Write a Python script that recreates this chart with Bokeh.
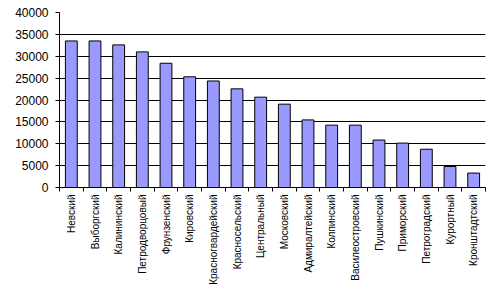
from bokeh.plotting import figure
from bokeh.models import FixedTicker, Range1d
from bokeh.embed import file_html
from bokeh.resources import INLINE
import math

districts = ["Невский", "Выборгский", "Калининский", "Петродворцовый", "Фрунзенский",
             "Кировский", "Красногвардейский", "Красносельский", "Центральный", "Московский",
             "Адмиралтейский", "Колпинский", "Василеостровский", "Пушкинский", "Приморский",
             "Петроградский", "Курортный", "Кронштадтский"]
values = [33500, 33500, 32600, 31000, 28400, 25300, 24350, 22550, 20650, 19050,
          15450, 14250, 14250, 10850, 10150, 8750, 4800, 3300]
y_ticks = [0, 5000, 10000, 15000, 20000, 25000, 30000, 35000, 40000]

xs = list(range(len(districts)))

p = figure(width=487, height=287, output_backend="svg", toolbar_location=None,
           x_range=Range1d(-0.5, len(districts) - 0.5), y_range=Range1d(0, 40000),
           min_border_left=59, min_border_right=2, min_border_top=12, min_border_bottom=100)
p.outline_line_color = None
p.background_fill_color = "white"
p.border_fill_color = "white"

p.vbar(x=xs, top=values, width=0.5, bottom=0, fill_color="#9999FF",
       line_color="black", line_width=1)

# axes
p.yaxis.ticker = FixedTicker(ticks=y_ticks)
p.yaxis.major_label_text_font = "Liberation Sans"
p.yaxis.major_label_text_font_size = "12px"
p.yaxis.major_label_text_color = "black"
p.yaxis.major_tick_out = 4
p.yaxis.major_tick_in = 0
p.yaxis.minor_tick_line_color = None
p.yaxis.axis_line_color = "black"
p.yaxis.major_label_standoff = 7

p.xaxis.ticker = FixedTicker(ticks=xs, minor_ticks=[i - 0.5 for i in range(len(districts) + 1)])
p.xaxis.major_label_overrides = {i: d for i, d in enumerate(districts)}
p.xaxis.major_label_orientation = math.pi / 2
p.xaxis.major_label_text_font = "Liberation Sans"
p.xaxis.major_label_text_font_size = "10px"
p.xaxis.major_label_text_color = "black"
p.xaxis.major_tick_line_color = None
p.xaxis.major_tick_out = 0
p.xaxis.major_tick_in = 0
p.xaxis.minor_tick_out = 4
p.xaxis.minor_tick_in = 0
p.xaxis.minor_tick_line_color = "black"
p.xaxis.axis_line_color = "black"
p.xaxis.major_label_standoff = 3

p.xgrid.grid_line_color = None
p.ygrid.ticker = FixedTicker(ticks=y_ticks)
p.ygrid.grid_line_color = "black"
p.ygrid.grid_line_width = 1

open("out.html", "w").write(file_html(p, INLINE))
